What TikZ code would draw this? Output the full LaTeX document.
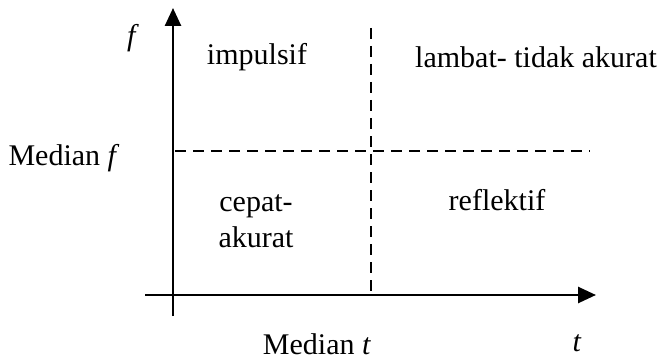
\documentclass[tikz,border=0pt]{standalone}
\usepackage{fontspec}
\setmainfont{Liberation Serif}
\usetikzlibrary{arrows.meta}
\begin{document}
\begin{tikzpicture}[x=0.5pt,y=-0.5pt,
  lbl/.style={inner sep=0pt,font=\fontsize{15}{18}\selectfont},
  axis/.style={line width=1.3pt,-{Triangle[length=9pt,width=8pt]}},
  dsh/.style={line width=1pt,dash pattern=on 5.5pt off 3.5pt}]
\useasboundingbox (0,0) rectangle (658,358);
\coordinate (ys) at (173,316);
\coordinate (ye) at (173,8);
\coordinate (xs) at (145,295);
\coordinate (xe) at (596,295);
\coordinate (hs) at (175,151);
\coordinate (he) at (590,151);
\coordinate (vs) at (371,28);
\coordinate (ve) at (371,294);
\draw[axis] (ys) -- (ye);
\draw[axis] (xs) -- (xe);
\draw[dsh] (hs) -- (he);
\draw[dsh] (vs) -- (ve);
\node[lbl] (f) at (133,38) {\textit{f}};
\node[lbl] (imp) at (257,57) {impulsif};
\node[lbl] (lam) at (536,57) {lambat- tidak akurat};
\node[lbl] (mf) at (64,158) {Median \textit{f}};
\node[lbl,align=center] (cep) at (256,221) {cepat-\\akurat};
\node[lbl] (ref) at (497,200) {reflektif};
\node[lbl] (mt) at (317,344) {Median \textit{t}};
\node[lbl] (t) at (577,343) {\textit{t}};
\end{tikzpicture}
\end{document}
